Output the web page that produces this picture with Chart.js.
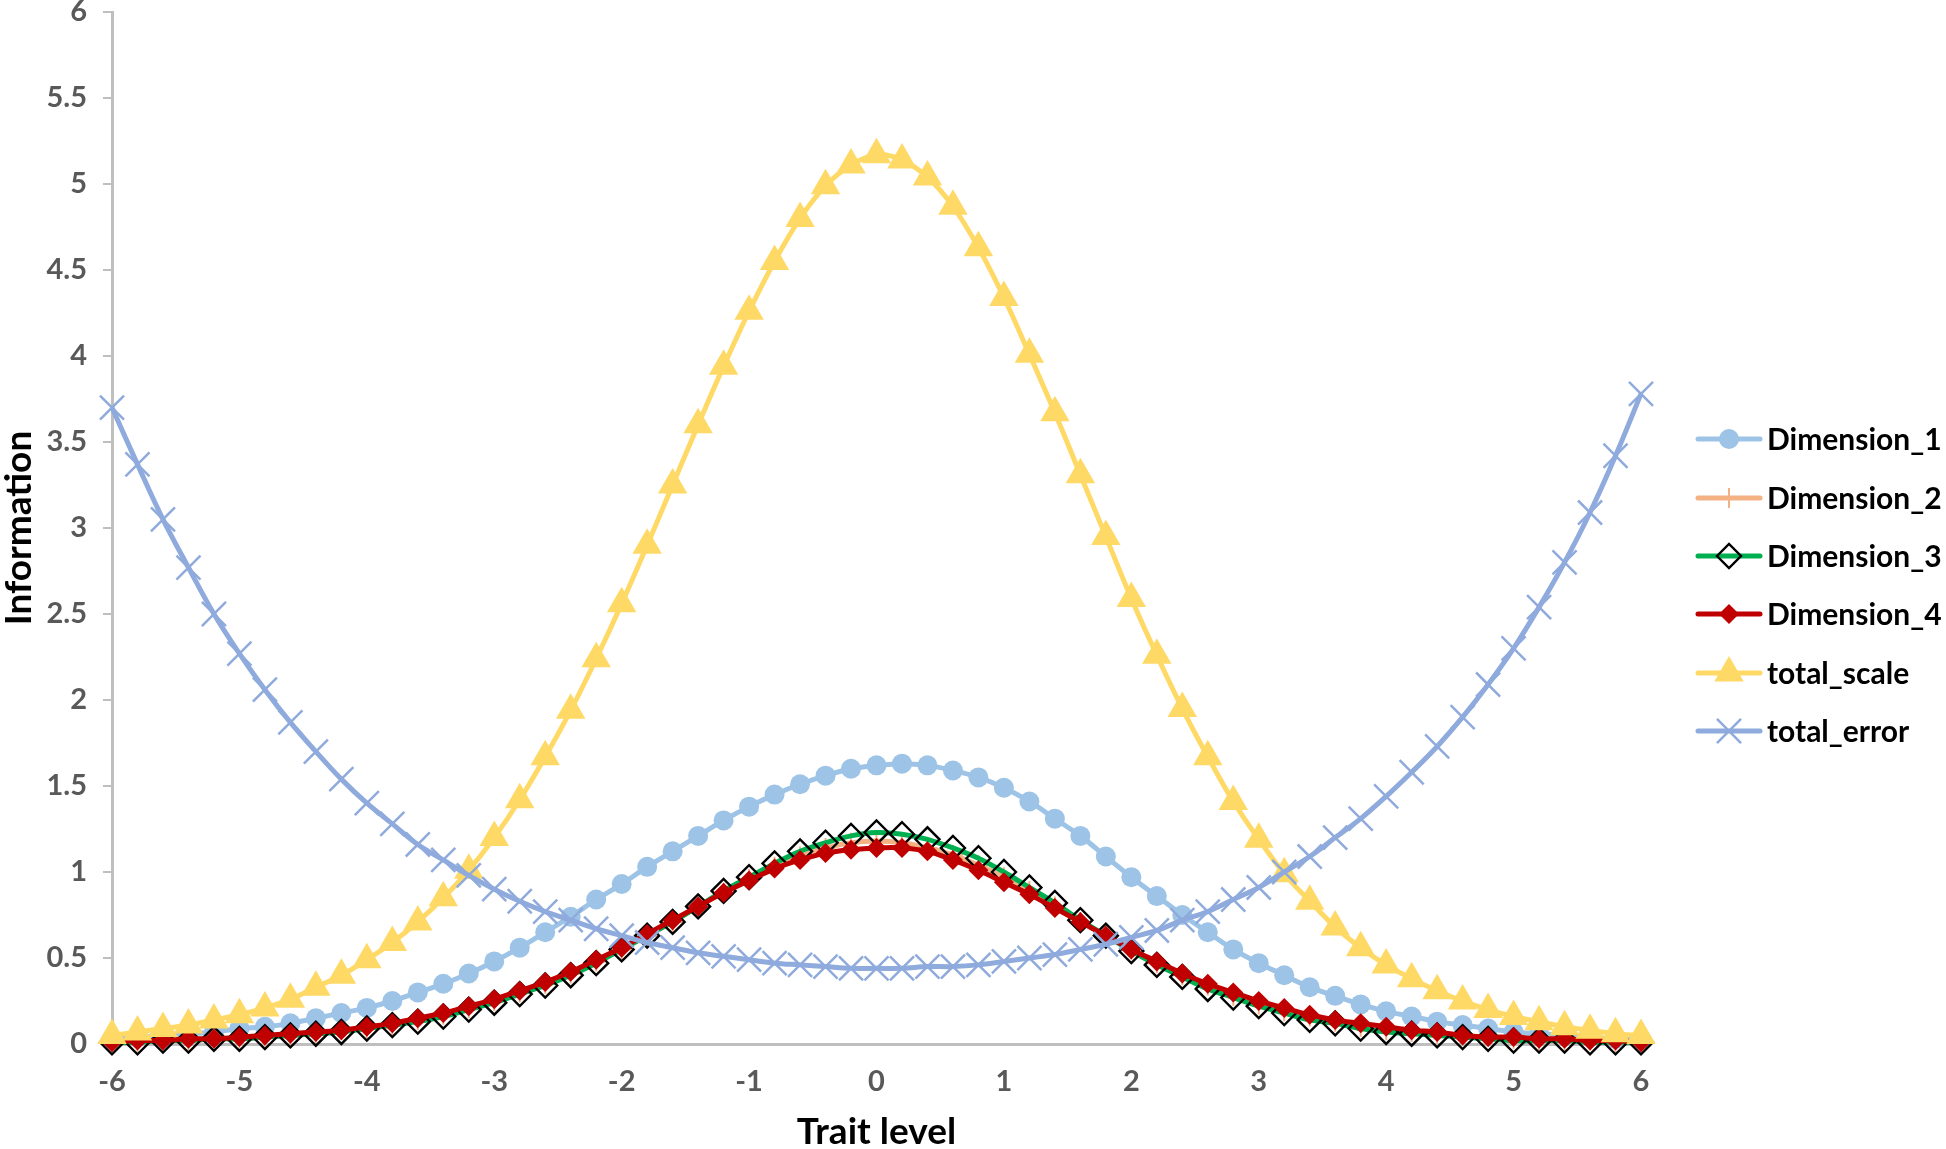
<!DOCTYPE html>
<html>
<head>
<meta charset="utf-8">
<script src="https://cdn.jsdelivr.net/npm/chart.js@4.4.1/dist/chart.umd.min.js"></script>
<style>
  html, body { margin: 0; padding: 0; background: #fff; }
  #wrap { width: 1946px; height: 1149px; position: relative; }
</style>
</head>
<body>
<div id="wrap"><canvas id="info-chart" width="1946" height="1149"></canvas></div>
<script>
const traitLevels = [-6, -5.8, -5.6, -5.4, -5.2, -5, -4.8, -4.6, -4.4, -4.2, -4, -3.8, -3.6, -3.4, -3.2, -3, -2.8, -2.6, -2.4, -2.2, -2, -1.8, -1.6, -1.4, -1.2, -1, -0.8, -0.6, -0.4, -0.2, 0, 0.2, 0.4, 0.6, 0.8, 1, 1.2, 1.4, 1.6, 1.8, 2, 2.2, 2.4, 2.6, 2.8, 3, 3.2, 3.4, 3.6, 3.8, 4, 4.2, 4.4, 4.6, 4.8, 5, 5.2, 5.4, 5.6, 5.8, 6];

const dimension1 = [0.03, 0.04, 0.05, 0.06, 0.07, 0.09, 0.10, 0.12, 0.15, 0.18, 0.21, 0.25, 0.30, 0.35, 0.41, 0.48, 0.56, 0.65, 0.74, 0.84, 0.93, 1.03, 1.12, 1.21, 1.30, 1.38, 1.45, 1.51, 1.56, 1.60, 1.62, 1.63, 1.62, 1.59, 1.55, 1.49, 1.41, 1.31, 1.21, 1.09, 0.97, 0.86, 0.75, 0.65, 0.55, 0.47, 0.40, 0.33, 0.28, 0.23, 0.19, 0.16, 0.13, 0.11, 0.09, 0.07, 0.06, 0.05, 0.04, 0.03, 0.03];
const dimension2 = [0.01, 0.01, 0.02, 0.02, 0.03, 0.03, 0.04, 0.05, 0.06, 0.08, 0.09, 0.11, 0.14, 0.17, 0.21, 0.25, 0.30, 0.35, 0.41, 0.48, 0.55, 0.63, 0.71, 0.80, 0.88, 0.96, 1.03, 1.09, 1.14, 1.17, 1.18, 1.17, 1.14, 1.10, 1.04, 0.97, 0.89, 0.80, 0.71, 0.63, 0.55, 0.47, 0.40, 0.34, 0.28, 0.23, 0.19, 0.16, 0.13, 0.10, 0.08, 0.07, 0.06, 0.05, 0.04, 0.03, 0.02, 0.02, 0.02, 0.01, 0.01];
const dimension3 = [0.01, 0.01, 0.02, 0.02, 0.03, 0.03, 0.04, 0.05, 0.06, 0.07, 0.09, 0.11, 0.13, 0.16, 0.20, 0.24, 0.29, 0.34, 0.40, 0.47, 0.55, 0.63, 0.71, 0.80, 0.89, 0.97, 1.05, 1.12, 1.17, 1.21, 1.23, 1.22, 1.19, 1.14, 1.08, 1.00, 0.91, 0.82, 0.72, 0.63, 0.54, 0.46, 0.39, 0.32, 0.27, 0.22, 0.18, 0.14, 0.12, 0.09, 0.07, 0.06, 0.05, 0.04, 0.03, 0.02, 0.02, 0.02, 0.01, 0.01, 0.01];
const dimension4 = [0.01, 0.02, 0.02, 0.03, 0.03, 0.04, 0.05, 0.06, 0.07, 0.08, 0.10, 0.12, 0.15, 0.18, 0.22, 0.26, 0.31, 0.36, 0.42, 0.49, 0.56, 0.64, 0.72, 0.80, 0.88, 0.95, 1.02, 1.07, 1.11, 1.13, 1.14, 1.14, 1.12, 1.07, 1.01, 0.94, 0.87, 0.79, 0.71, 0.63, 0.55, 0.48, 0.41, 0.35, 0.30, 0.25, 0.21, 0.17, 0.14, 0.12, 0.10, 0.08, 0.07, 0.05, 0.04, 0.04, 0.03, 0.03, 0.02, 0.02, 0.01];
const totalScale = [0.05, 0.07, 0.09, 0.11, 0.14, 0.17, 0.21, 0.26, 0.33, 0.40, 0.49, 0.59, 0.71, 0.85, 1.01, 1.20, 1.42, 1.67, 1.94, 2.24, 2.56, 2.90, 3.25, 3.60, 3.94, 4.26, 4.55, 4.80, 4.99, 5.11, 5.17, 5.14, 5.04, 4.87, 4.63, 4.34, 4.01, 3.67, 3.31, 2.95, 2.59, 2.26, 1.95, 1.67, 1.41, 1.19, 0.99, 0.83, 0.68, 0.56, 0.46, 0.38, 0.31, 0.25, 0.20, 0.16, 0.13, 0.10, 0.08, 0.06, 0.05];
const totalError = [3.70, 3.37, 3.05, 2.77, 2.50, 2.27, 2.06, 1.87, 1.70, 1.54, 1.40, 1.28, 1.16, 1.07, 0.98, 0.90, 0.83, 0.77, 0.72, 0.67, 0.63, 0.59, 0.56, 0.53, 0.51, 0.49, 0.47, 0.46, 0.45, 0.44, 0.44, 0.44, 0.45, 0.45, 0.46, 0.48, 0.50, 0.52, 0.55, 0.58, 0.62, 0.66, 0.72, 0.77, 0.84, 0.91, 1.00, 1.09, 1.20, 1.31, 1.44, 1.58, 1.73, 1.90, 2.09, 2.30, 2.54, 2.80, 3.09, 3.42, 3.78];

const seriesNames = ['Dimension_1', 'Dimension_2', 'Dimension_3', 'Dimension_4', 'total_scale', 'total_error'];
const xTicks = [-6, -5, -4, -3, -2, -1, 0, 1, 2, 3, 4, 5, 6];
const yTicks = [0, 0.5, 1, 1.5, 2, 2.5, 3, 3.5, 4, 4.5, 5, 5.5, 6];

const FONT = 'Lato, "Open Sans", sans-serif';

function points(values) {
  return traitLevels.map((x, i) => ({ x: x, y: values[i] }));
}

// line colour, marker style, radius, fill, border
const styles = [
  { line: '#9DC3E6', point: 'circle', r: 10, fill: '#9DC3E6', border: '#9DC3E6', bw: 0 },
  { line: '#F4B183', point: 'cross', r: 10, fill: '#F4B183', border: '#F4B183', bw: 2 },
  { line: '#00B050', point: 'rectRot', r: 12, fill: 'rgba(0,0,0,0)', border: '#000000', bw: 2.4 },
  { line: '#C00000', point: 'rectRot', r: 10, fill: '#C00000', border: '#C00000', bw: 0 },
  { line: '#FFD966', point: 'triangle', r: 17, fill: '#FFD966', border: '#FFD966', bw: 0 },
  { line: '#8FAADC', point: 'crossRot', r: 17, fill: '#8FAADC', border: '#8FAADC', bw: 2.5 }
];

const seriesValues = [dimension1, dimension2, dimension3, dimension4, totalScale, totalError];

const datasets = seriesValues.map((vals, i) => ({
  label: seriesNames[i],
  data: points(vals),
  borderColor: styles[i].line,
  backgroundColor: styles[i].line,
  borderWidth: 5,
  tension: 0.35,
  pointStyle: styles[i].point,
  pointRadius: styles[i].r,
  pointHoverRadius: styles[i].r,
  pointBackgroundColor: styles[i].fill,
  pointBorderColor: styles[i].border,
  pointBorderWidth: styles[i].bw,
  clip: false,
  order: seriesValues.length - i
}));

const legendPlugin = {
  id: 'sideLegend',
  afterDraw(chart) {
    const ctx = chart.ctx;
    const rowY = [439, 498, 556, 614, 673, 731];
    const x0 = 1698, x1 = 1760, textX = 1767;
    ctx.save();
    seriesNames.forEach((name, i) => {
      const s = styles[i];
      const y = rowY[i];
      ctx.strokeStyle = s.line;
      ctx.lineWidth = 5;
      ctx.lineCap = 'round';
      ctx.beginPath();
      ctx.moveTo(x0, y);
      ctx.lineTo(x1, y);
      ctx.stroke();
      ctx.lineCap = 'butt';
      ctx.fillStyle = s.fill;
      ctx.strokeStyle = s.border;
      ctx.lineWidth = s.bw;
      Chart.helpers.drawPoint(ctx, { pointStyle: s.point, radius: s.r, rotation: 0, borderWidth: s.bw }, (x0 + x1) / 2, y);
      ctx.fillStyle = '#000000';
      ctx.font = 'bold 30px ' + FONT;
      ctx.textAlign = 'left';
      ctx.textBaseline = 'middle';
      ctx.fillText(name, textX, y + 1);
    });
    ctx.restore();
  }
};

new Chart(document.getElementById('info-chart').getContext('2d'), {
  type: 'line',
  data: { datasets: datasets },
  plugins: [legendPlugin],
  options: {
    responsive: false,
    animation: false,
    layout: { autoPadding: false, padding: { left: 0, right: 305, top: 12, bottom: 0 } },
    plugins: { legend: { display: false }, tooltip: { enabled: false } },
    scales: {
      x: {
        type: 'linear',
        min: -6,
        max: 6,
        afterBuildTicks: scale => { scale.ticks = xTicks.map(v => ({ value: v })); },
        afterFit: scale => { scale.height = 105; scale.paddingLeft = 0; scale.paddingRight = 0; },
        grid: { display: false, drawTicks: false },
        border: { display: true, color: '#BFBFBF', width: 3 },
        ticks: { color: '#595959', font: { family: FONT, size: 29, weight: 'bold' }, padding: 20, maxRotation: 0, callback: v => String(v) },
        title: { display: true, text: 'Trait level', color: '#000000', font: { family: FONT, size: 37, weight: 'bold' }, padding: { top: 0, bottom: -5 } }
      },
      y: {
        type: 'linear',
        min: 0,
        max: 6,
        afterBuildTicks: scale => { scale.ticks = yTicks.map(v => ({ value: v })); },
        afterFit: scale => { scale.width = 112; scale.paddingTop = 0; scale.paddingBottom = 0; },
        grid: { display: true, drawOnChartArea: false, drawTicks: true, tickLength: 9, color: '#BFBFBF', lineWidth: 2 },
        border: { display: true, color: '#BFBFBF', width: 3 },
        ticks: { color: '#595959', font: { family: FONT, size: 29, weight: 'bold' }, padding: 16, callback: v => String(v) },
        title: { display: true, text: 'Information', color: '#000000', font: { family: FONT, size: 37, weight: 'bold' }, padding: { top: -3, bottom: 0 } }
      }
    }
  }
});
</script>
</body>
</html>
